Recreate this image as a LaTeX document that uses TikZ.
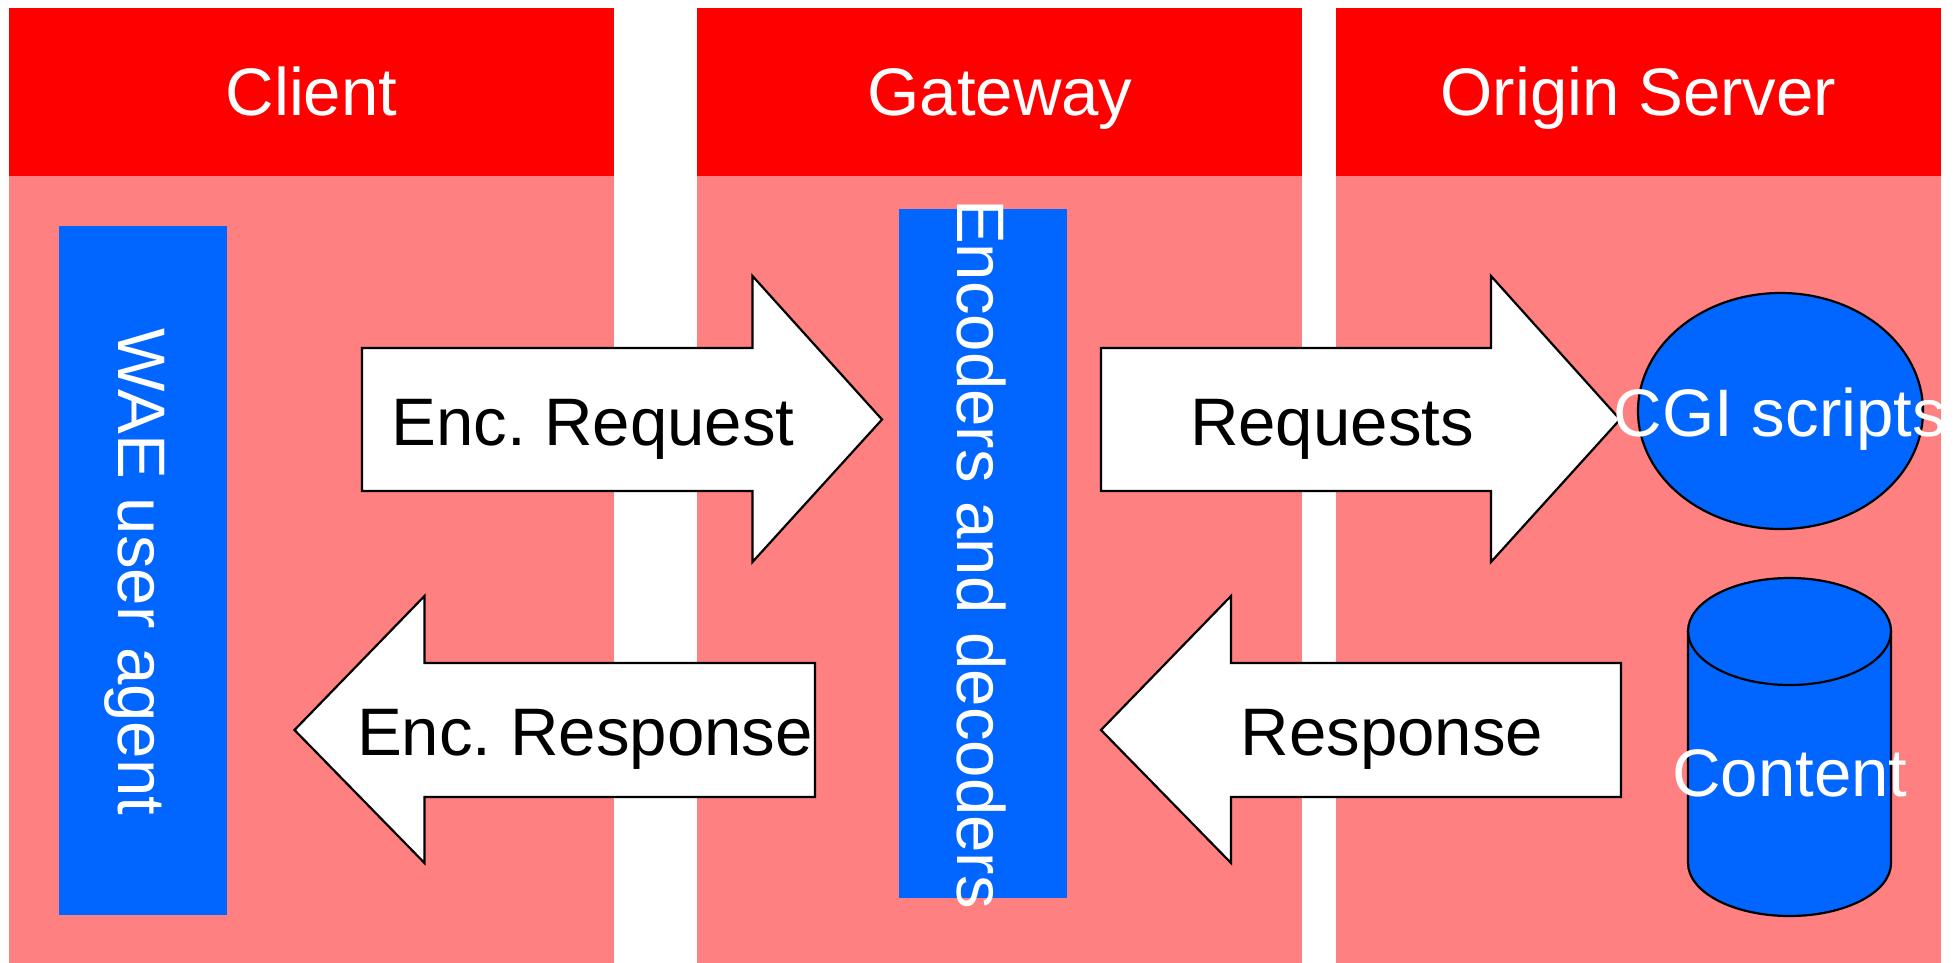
\documentclass[tikz,border=0pt]{standalone}
\usepackage{fontspec}
\setmainfont{Liberation Sans}
\definecolor{hdr}{RGB}{255,0,0}
\definecolor{pnl}{RGB}{255,128,128}
\definecolor{blu}{RGB}{0,102,255}
\tikzset{
  x=1pt,y=-1pt,
  lbl/.style={inner sep=0pt,font=\fontsize{67.2}{70}\selectfont,anchor=base},
  wlbl/.style={lbl,text=white},
  blbl/.style={lbl,text=black},
  panel/.style={fill=pnl},
  header/.style={fill=hdr},
  bluebox/.style={fill=blu},
  solid3d/.style={fill=blu,draw=black,line width=2.2pt},
  blockarrow/.style={fill=white,draw=black,line width=2.2pt,line join=miter}
}
\begin{document}
\frenchspacing
\begin{tikzpicture}
\useasboundingbox (0,0) rectangle (1959,963);
% panels
\path[panel] (9,8) rectangle (614,963);
\path[panel] (697,8) rectangle (1302,963);
\path[panel] (1336,8) rectangle (1941,963);
\path[header] (9,8) rectangle (614,176);
\path[header] (697,8) rectangle (1302,176);
\path[header] (1336,8) rectangle (1941,176);
\node[wlbl] (client) at (311.5,116) {Client};
\node[wlbl] (gateway) at (1000,116) {Gateway};
\node[wlbl] (origin) at (1638.5,116) {Origin Server};
% blue boxes
\path[bluebox] (59,226) rectangle (227,915);
\path[bluebox] (899,209) rectangle (1067,898);
% ellipse and cylinder
\path[solid3d] (1780.5,411) ellipse[x radius=142.5pt,y radius=118pt];
\path[solid3d] (1688,631) -- (1688,863) arc[start angle=180,end angle=360,x radius=101.5pt,y radius=53pt]
  -- (1891,631) arc[start angle=0,end angle=180,x radius=101.5pt,y radius=53pt] -- cycle;
\draw[line width=2.2pt] (1688,631) arc[start angle=180,end angle=360,x radius=101.5pt,y radius=54pt];
% block arrows
\path[blockarrow] (362,348) -- (752.5,348) -- (752.5,276) -- (882,419.5) -- (752.5,562) -- (752.5,491) -- (362,491) -- cycle;
\path[blockarrow] (1101,348) -- (1491,348) -- (1491,276) -- (1620,419.5) -- (1491,562) -- (1491,491) -- (1101,491) -- cycle;
\path[blockarrow] (815,663) -- (424.5,663) -- (424.5,596) -- (294.5,730) -- (424.5,863) -- (424.5,797) -- (815,797) -- cycle;
\path[blockarrow] (1621,663) -- (1231,663) -- (1231,596) -- (1101,730) -- (1231,863) -- (1231,797) -- (1621,797) -- cycle;
% labels
\node[blbl] (encreq) at (593,445) {Enc. Request};
\node[blbl] (req) at (1332,445) {Requests};
\node[blbl] (encresp) at (585,755) {Enc. Response};
\node[blbl] (resp) at (1392,755) {Response};
\node[wlbl,rotate=-90] (wae) at (118.5,572) {WAE user agent};
\node[wlbl,rotate=-90] (enc) at (957.5,554) {Encoders and decoders};
\begin{scope}
\clip (0,0) rectangle (1941,963);
\node[wlbl] (cgi) at (1780,436) {CGI scripts};
\node[wlbl] (content) at (1790,796) {Content};
\end{scope}
\end{tikzpicture}
\end{document}
